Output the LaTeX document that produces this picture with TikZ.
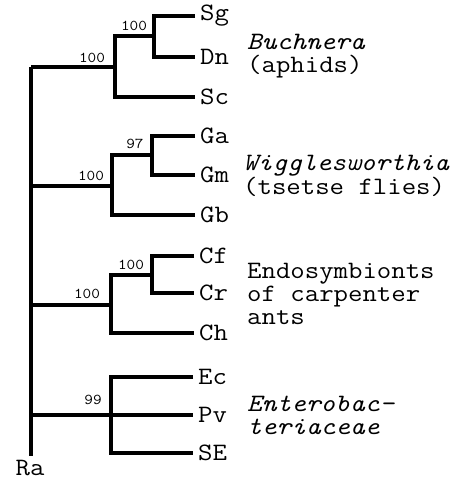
\documentclass[tikz,border=0pt]{standalone}
\usepackage{fontspec}
\setmonofont[FakeStretch=1.12]{Latin Modern Mono}
\begin{document}
\begin{tikzpicture}[x=1pt,y=-1pt,
  br/.style={line width=4.5pt},
  leaf/.style={font=\ttfamily\fontsize{25}{25}\selectfont, anchor=west, inner xsep=5pt, inner ysep=0pt},
  boot/.style={font=\ttfamily\fontsize{15}{15}\selectfont, inner sep=0pt},
  grp/.style={font=\ttfamily\fontsize{25}{23}\selectfont, anchor=west, align=left, inner sep=0pt}]
\useasboundingbox (0,0) rectangle (459,480);
% leaves
\node[leaf] (Sg) at (195,16) {Sg};
\node[leaf] (Dn) at (195,57) {Dn};
\node[leaf] (Sc) at (195,97) {Sc};
\node[leaf] (Ga) at (195,136) {Ga};
\node[leaf] (Gm) at (195,175) {Gm};
\node[leaf] (Gb) at (195,215) {Gb};
\node[leaf] (Cf) at (194,256) {Cf};
\node[leaf] (Cr) at (194,293) {Cr};
\node[leaf] (Ch) at (194,333) {Ch};
\node[leaf] (Ec) at (193,377) {Ec};
\node[leaf] (Pv) at (193,415) {Pv};
\node[leaf] (SE) at (193,453) {SE};
\node[font=\ttfamily\fontsize{25}{25}\selectfont, inner sep=0pt] (Ra) at (30,468) {Ra};
% internal nodes
\coordinate (b2) at (154,36);
\coordinate (b1) at (115,67);
\coordinate (w2) at (152,155);
\coordinate (w1) at (112,186);
\coordinate (c2) at (152,275);
\coordinate (c1) at (111,305);
\coordinate (e1) at (111,415);
\coordinate (rtop) at (31,67);
\coordinate (rbot) at (31,456);
% branches
\draw[br] (Sg.west) -| (b2) |- (Dn.west);
\draw[br] (b2) -| (b1) |- (Sc.west);
\draw[br] (Ga.west) -| (w2) |- (Gm.west);
\draw[br] (w2) -| (w1) |- (Gb.west);
\draw[br] (Cf.west) -| (c2) |- (Cr.west);
\draw[br] (c2) -| (c1) |- (Ch.west);
\draw[br] (Ec.west) -| (e1) |- (SE.west);
\draw[br] (e1) -- (Pv.west);
\draw[br] (rtop) -- (rbot);
\draw[br] (rtop) -- (b1);
\draw[br] (w1 -| rtop) -- (w1);
\draw[br] (c1 -| rtop) -- (c1);
\draw[br] (e1 -| rtop) -- (e1);
% bootstrap values
\node[boot] (v1) at (134,26) {100};
\node[boot] (v2) at (92,58) {100};
\node[boot] (v3) at (135,144) {97};
\node[boot] (v4) at (91,176) {100};
\node[boot] (v5) at (131,265) {100};
\node[boot] (v6) at (87,294) {100};
\node[boot] (v7) at (93,400) {99};
% group labels
\node[grp] (gB) at (247,56) {\itshape Buchnera\\(aphids)};
\node[grp] (gW) at (243,176) {\itshape Wigglesworthia\\(tsetse flies)};
\node[grp] (gC) at (247,294) {Endosymbionts\\of carpenter\\ants};
\node[grp] (gE) at (247,415) {\itshape Enterobac-\\\itshape teriaceae};
\end{tikzpicture}
\end{document}
